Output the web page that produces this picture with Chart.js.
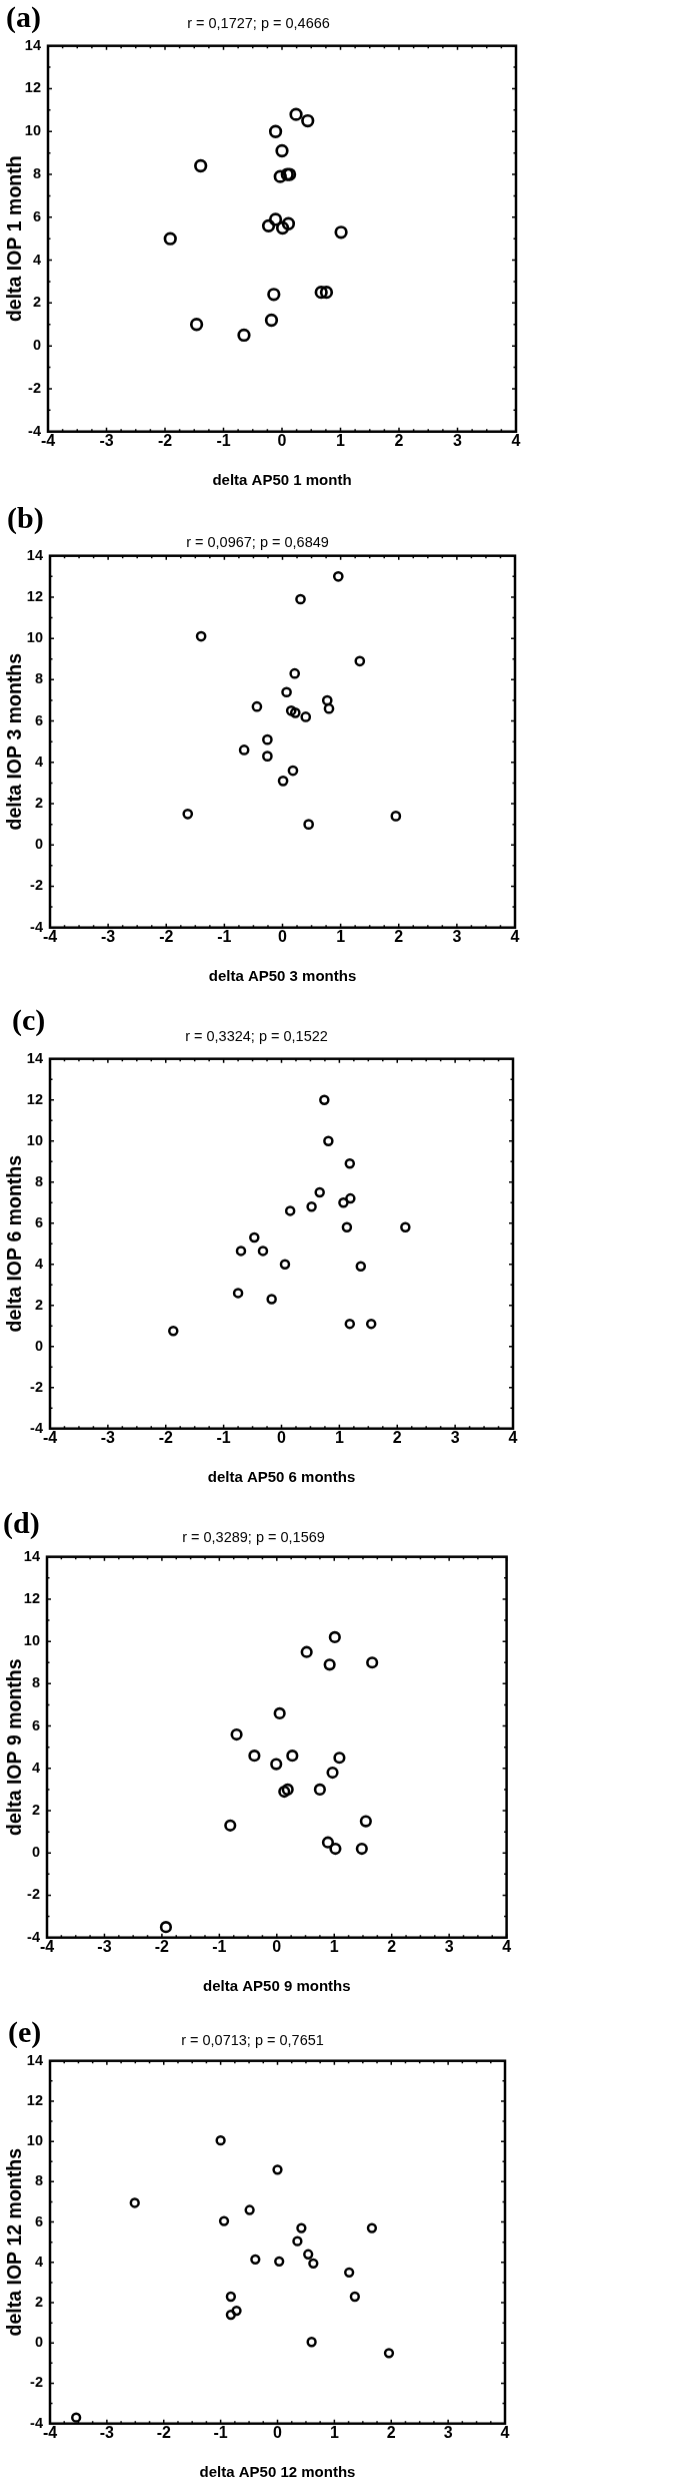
<!DOCTYPE html>
<html>
<head>
<meta charset="utf-8">
<script src="https://cdn.jsdelivr.net/npm/chart.js@4.4.1/dist/chart.umd.min.js"></script>
<style>
    html, body { margin: 0; padding: 0; background: #fff; }
    body { width: 681px; height: 2481px; position: relative; overflow: hidden; }
    .panel { position: absolute; left: 0; }
    .tag {
        position: absolute;
        font-family: "Liberation Serif", "DejaVu Serif", serif;
        font-weight: bold;
        font-size: 30px;
        line-height: 30px;
        color: #000;
    }
</style>
</head>
<body>
<script>
// delta AP50 (x) vs delta IOP (y), one pair of arrays per follow-up time
const ap50Month1 = [0.24, 0.44, -0.11, 0.00, -1.39, -0.03, 0.09, 0.13, -0.11, -0.23, 0.01, 0.11, 1.01, -1.91, -0.14, 0.67, 0.76, -0.18, -1.46, -0.65];
const iopMonth1 = [10.8, 10.5, 10.0, 9.1, 8.4, 7.9, 8.0, 8.0, 5.9, 5.6, 5.5, 5.7, 5.3, 5.0, 2.4, 2.5, 2.5, 1.2, 1.0, 0.5];

const ap50Month3 = [0.96, 0.31, -1.40, 1.33, 0.21, 0.07, -0.44, 0.15, 0.22, 0.40, 0.77, 0.80, -0.26, -0.66, -0.26, 0.18, 0.01, -1.63, 0.45, 1.95];
const iopMonth3 = [13.0, 11.9, 10.1, 8.9, 8.3, 7.4, 6.7, 6.5, 6.4, 6.2, 7.0, 6.6, 5.1, 4.6, 4.3, 3.6, 3.1, 1.5, 1.0, 1.4];

const ap50Month6 = [0.74, 0.81, 1.18, 0.66, 0.52, 0.15, 1.07, 1.19, 1.13, 2.14, -0.47, -0.70, -0.32, 0.06, 1.37, -0.75, -0.17, 1.18, 1.55, -1.87];
const iopMonth6 = [12.0, 10.0, 8.9, 7.5, 6.8, 6.6, 7.0, 7.2, 5.8, 5.8, 5.3, 4.65, 4.65, 4.0, 3.9, 2.6, 2.3, 1.1, 1.1, 0.75];

const ap50Month9 = [1.01, 0.52, 0.92, 1.66, 0.05, -0.70, -0.39, 0.27, -0.01, 1.09, 0.97, 0.13, 0.19, 0.75, 1.55, -0.81, 0.89, 1.02, 1.48, -1.93];
const iopMonth9 = [10.2, 9.5, 8.9, 9.0, 6.6, 5.6, 4.6, 4.6, 4.2, 4.5, 3.8, 2.9, 3.0, 3.0, 1.5, 1.3, 0.5, 0.2, 0.2, -3.5];

const ap50Month12 = [-1.0, 0.0, -2.51, -0.49, -0.94, 0.42, 1.66, 0.35, 0.54, 0.63, -0.39, 0.03, 1.26, 1.36, -0.82, -0.72, -0.82, 0.60, 1.96, -3.54];
const iopMonth12 = [10.05, 8.6, 6.95, 6.6, 6.05, 5.7, 5.7, 5.05, 4.4, 3.95, 4.15, 4.05, 3.5, 2.3, 2.3, 1.6, 1.4, 0.05, -0.5, -3.7];

const panelTags = ["(a)", "(b)", "(c)", "(d)", "(e)"];
const panelTitles = ["r = 0,1727; p = 0,4666", "r = 0,0967; p = 0,6849", "r = 0,3324; p = 0,1522", "r = 0,3289; p = 0,1569", "r = 0,0713; p = 0,7651"];
const xTitles = ["delta AP50 1 month", "delta AP50 3 months", "delta AP50 6 months", "delta AP50 9 months", "delta AP50 12 months"];
const yTitles = ["delta IOP 1 month", "delta IOP 3 months", "delta IOP 6 months", "delta IOP 9 months", "delta IOP 12 months"];
const xTickRange = [-4, 4, 1];
const yTickRange = [-4, 14, 2];

const xSeries = [ap50Month1, ap50Month3, ap50Month6, ap50Month9, ap50Month12];
const ySeries = [iopMonth1, iopMonth3, iopMonth6, iopMonth9, iopMonth12];

// page layout of each panel (pixels)
const layouts = [
    { top: 46, bottom: 431, left: 48, width: 524, right: 7, gap: 22, r: 5.3, bw: 2.7, tag: [6, 2] },
    { top: 556, bottom: 927, left: 50, width: 532, right: 17, gap: 13, r: 4.1, bw: 2.5, tag: [7, 503] },
    { top: 1059, bottom: 1428, left: 50, width: 530, right: 17, gap: 22, r: 4.0, bw: 2.5, tag: [12, 1005] },
    { top: 1557, bottom: 1937, left: 47, width: 514, right: 7, gap: 19, r: 4.8, bw: 2.6, tag: [3, 1508] },
    { top: 2061, bottom: 2423, left: 50, width: 515, right: 10, gap: 20, r: 3.9, bw: 2.5, tag: [8, 2017] }
];

const FONT = "'Liberation Sans', Arial, Helvetica, sans-serif";
const TITLE_SIZE = 14.5;
const X_BAND = 61;

// box round the plot with small inward ticks on all four sides
const frameTicks = {
    id: "frameTicks",
    beforeDatasetsDraw(chart) {
        const { ctx, chartArea: a, scales } = chart;
        const xs = scales.x, ys = scales.y;
        ctx.save();
        ctx.strokeStyle = "#000";
        ctx.lineWidth = 1.5;
        ctx.beginPath();
        for (let v = xTickRange[0]; v <= xTickRange[1] + 1e-9; v += 0.25) {
            const px = xs.getPixelForValue(v);
            const len = Number.isInteger(v) ? 4 : 2.5;
            ctx.moveTo(px, a.bottom); ctx.lineTo(px, a.bottom - len);
            ctx.moveTo(px, a.top); ctx.lineTo(px, a.top + len);
        }
        for (let v = yTickRange[0]; v <= yTickRange[1]; v += 1) {
            const py = ys.getPixelForValue(v);
            const len = v % 2 === 0 ? 4 : 2.5;
            ctx.moveTo(a.left, py); ctx.lineTo(a.left + len, py);
            ctx.moveTo(a.right, py); ctx.lineTo(a.right - len, py);
        }
        ctx.stroke();
        ctx.lineWidth = 2.5;
        ctx.strokeRect(a.left, a.top, a.right - a.left, a.bottom - a.top);
        ctx.restore();
    }
};

function makePanel(i) {
    const L = layouts[i];
    const titlePadBottom = L.gap - TITLE_SIZE * 0.6;
    const titleBlock = 2 + TITLE_SIZE * 1.2 + titlePadBottom;
    const canvasTop = L.top - titleBlock;
    const height = L.bottom + X_BAND - canvasTop;

    const box = document.createElement("div");
    box.className = "panel";
    box.style.top = canvasTop + "px";
    box.style.width = L.width + "px";
    box.style.height = height + "px";
    const canvas = document.createElement("canvas");
    box.appendChild(canvas);
    document.body.appendChild(box);

    const tag = document.createElement("div");
    tag.className = "tag";
    tag.style.left = L.tag[0] + "px";
    tag.style.top = L.tag[1] + "px";
    tag.textContent = panelTags[i];
    document.body.appendChild(tag);

    const points = xSeries[i].map((x, k) => ({ x: x, y: ySeries[i][k] }));

    return new Chart(canvas.getContext("2d"), {
        type: "scatter",
        data: {
            datasets: [{
                data: points,
                pointStyle: "circle",
                pointRadius: L.r,
                pointHoverRadius: L.r,
                pointBorderWidth: L.bw,
                borderColor: "#000",
                backgroundColor: "rgba(0,0,0,0)"
            }]
        },
        options: {
            responsive: true,
            maintainAspectRatio: false,
            devicePixelRatio: 1,
            animation: false,
            layout: { padding: { top: 0, bottom: 0, left: 0, right: L.right } },
            plugins: {
                legend: { display: false },
                tooltip: { enabled: false },
                title: {
                    display: true,
                    text: panelTitles[i],
                    color: "#000",
                    font: { family: FONT, size: TITLE_SIZE, weight: "normal" },
                    padding: { top: 2, bottom: titlePadBottom }
                }
            },
            scales: {
                x: {
                    type: "linear",
                    min: xTickRange[0],
                    max: xTickRange[1],
                    grid: { display: false, drawTicks: false },
                    border: { display: false },
                    ticks: {
                        stepSize: xTickRange[2],
                        padding: 0,
                        color: "#000",
                        font: { family: FONT, size: 16, weight: "bold" }
                    },
                    title: {
                        display: true,
                        text: xTitles[i],
                        color: "#000",
                        font: { family: FONT, size: 15, weight: "bold" },
                        padding: { top: 0, bottom: 3 }
                    },
                    afterFit(scale) { scale.height = X_BAND; }
                },
                y: {
                    type: "linear",
                    min: yTickRange[0],
                    max: yTickRange[1],
                    grid: { display: false, drawTicks: false },
                    border: { display: false },
                    ticks: {
                        stepSize: yTickRange[2],
                        padding: 7,
                        color: "#000",
                        font: { family: FONT, size: 14.5, weight: "bold" }
                    },
                    title: {
                        display: true,
                        text: yTitles[i],
                        color: "#000",
                        font: { family: FONT, size: 19.5, weight: "bold" },
                        padding: { top: 4, bottom: 0 }
                    },
                    afterFit(scale) { scale.width = L.left; }
                }
            }
        },
        plugins: [frameTicks]
    });
}

for (let i = 0; i < layouts.length; i++) makePanel(i);
</script>
</body>
</html>
